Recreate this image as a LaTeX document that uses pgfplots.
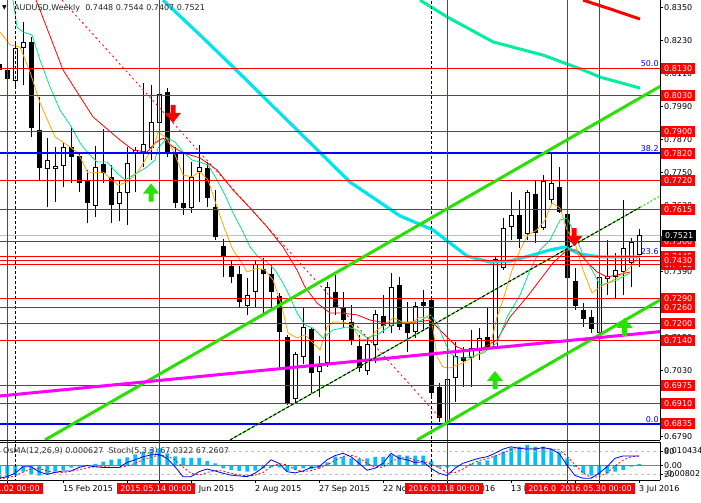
\documentclass[border=0pt]{standalone}
\usepackage{pgfplots}
\pgfplotsset{compat=1.18}
\usepackage{pgfplotstable}
\usepackage{fontspec}
\setmainfont{DejaVu Sans}

\definecolor{mtred}{RGB}{255,0,0}
\definecolor{mtblue}{RGB}{0,0,255}
\definecolor{chan}{RGB}{40,225,0}
\definecolor{magen}{RGB}{255,0,255}
\definecolor{aqua}{RGB}{0,228,240}
\definecolor{sprg}{RGB}{0,238,160}
\definecolor{orng}{RGB}{255,165,0}
\definecolor{grn}{RGB}{0,230,140}
\definecolor{osma}{RGB}{0,191,255}
\definecolor{silv}{RGB}{192,192,192}

% weekly candles, x = week number (0 = week of 4 Jan 2015)
\pgfplotstableread{
i o h l c
-2 0.8145 0.8152 0.8116 0.8123
-1 0.8123 0.8126 0.8086 0.8090
2 0.8225 0.8243 0.7879 0.7912
3 0.7905 0.8025 0.7719 0.7766
7 0.7843 0.7915 0.7712 0.7806
8 0.7810 0.7821 0.7679 0.7712
9 0.7719 0.7759 0.7566 0.7639
11 0.7781 0.7908 0.7712 0.7748
12 0.7734 0.7777 0.7566 0.7632
19 0.8043 0.8057 0.7806 0.7824
20 0.7821 0.7843 0.7621 0.7639
21 0.7639 0.7821 0.7595 0.7621
24 0.7766 0.7788 0.7624 0.7657
25 0.7624 0.7686 0.7504 0.7515
26 0.7483 0.7508 0.7370 0.7446
27 0.7410 0.7432 0.7348 0.7370
28 0.7381 0.7410 0.7257 0.7279
31 0.7399 0.7439 0.7239 0.7381
32 0.7381 0.7413 0.7250 0.7315
33 0.7301 0.7312 0.7042 0.7170
34 0.7152 0.7159 0.6904 0.6908
37 0.7181 0.7188 0.6948 0.7021
40 0.7315 0.7377 0.7232 0.7261
41 0.7257 0.7315 0.7184 0.7213
42 0.7206 0.7268 0.7122 0.7137
43 0.7119 0.7159 0.7024 0.7039
46 0.7228 0.7304 0.7166 0.7192
48 0.7341 0.7370 0.7177 0.7188
49 0.7199 0.7279 0.7097 0.7166
51 0.7279 0.7323 0.7177 0.7264
52 0.7286 0.7293 0.6930 0.6948
53 0.6970 0.6984 0.6842 0.6857
56 0.7079 0.7115 0.6970 0.7064
59 0.7152 0.7261 0.7104 0.7115
63 0.7595 0.7650 0.7475 0.7508
65 0.7672 0.7723 0.7493 0.7530
68 0.7697 0.7770 0.7603 0.7606
69 0.7599 0.7606 0.7359 0.7366
70 0.7355 0.7402 0.7250 0.7264
71 0.7250 0.7275 0.7188 0.7217
72 0.7224 0.7250 0.7166 0.7181
}\bear

\pgfplotstableread{
i o h l c
0 0.8083 0.8221 0.8057 0.8203
1 0.8203 0.8297 0.8068 0.8225
4 0.7763 0.7875 0.7624 0.7795
5 0.7763 0.7843 0.7643 0.7774
6 0.7774 0.7857 0.7697 0.7843
10 0.7628 0.7846 0.7588 0.7770
13 0.7635 0.7723 0.7573 0.7679
14 0.7675 0.7843 0.7559 0.7784
15 0.7824 0.7843 0.7679 0.7832
16 0.7824 0.8076 0.7770 0.7854
17 0.7839 0.8068 0.7795 0.7934
18 0.7930 0.8039 0.7832 0.8035
22 0.7621 0.7788 0.7603 0.7734
23 0.7752 0.7850 0.7643 0.7770
29 0.7264 0.7366 0.7232 0.7304
30 0.7315 0.7428 0.7257 0.7417
35 0.6926 0.7097 0.6915 0.7090
36 0.7079 0.7261 0.7053 0.7188
38 0.7024 0.7082 0.6933 0.7046
39 0.7057 0.7352 0.7042 0.7333
44 0.7028 0.7148 0.7013 0.7126
45 0.7122 0.7250 0.7057 0.7235
47 0.7192 0.7384 0.7166 0.7333
50 0.7170 0.7279 0.7148 0.7264
54 0.6839 0.7006 0.6831 0.6999
55 0.7002 0.7133 0.6915 0.7082
57 0.7075 0.7177 0.6970 0.7112
58 0.7101 0.7184 0.7068 0.7148
60 0.7115 0.7443 0.7108 0.7435
61 0.7402 0.7584 0.7395 0.7548
62 0.7552 0.7679 0.7504 0.7595
64 0.7526 0.7686 0.7504 0.7679
66 0.7548 0.7741 0.7541 0.7719
67 0.7650 0.7821 0.7632 0.7712
73 0.7166 0.7370 0.7159 0.7370
74 0.7363 0.7504 0.7304 0.7373
75 0.7370 0.7457 0.7293 0.7395
76 0.7388 0.7650 0.7304 0.7475
77 0.7421 0.7512 0.7333 0.7497
78 0.7448 0.7544 0.7407 0.7521
}\bull

% OsMA histogram
\pgfplotstableread{
i v
-2 -0.0065
-1 -0.0062
0 -0.0048
1 -0.0032
2 -0.0045
3 -0.0052
4 -0.0045
5 -0.0032
6 -0.0023
7 -0.0012
8 -0.0007
9 -0.0002
10 0.0007
11 0.0018
12 0.0028
13 0.0032
14 0.0040
15 0.0055
16 0.0068
17 0.0082
18 0.0085
19 0.0060
20 0.0045
21 0.0038
22 0.0037
23 0.0037
24 0.0022
25 0.0010
26 -0.0015
27 -0.0023
28 -0.0028
29 -0.0032
30 -0.0027
31 -0.0015
32 -0.0008
33 -0.0010
34 -0.0028
35 -0.0022
36 -0.0015
37 -0.0018
38 -0.0015
39 0.0015
40 0.0043
41 0.0043
42 0.0035
43 0.0032
44 0.0035
45 0.0042
46 0.0042
47 0.0052
48 0.0052
49 0.0048
50 0.0048
51 0.0048
52 0.0022
53 -0.0012
54 -0.0012
55 -0.0007
56 -0.0002
57 0.0008
58 0.0018
59 0.0025
60 0.0048
61 0.0068
62 0.0088
63 0.0093
64 0.0102
65 0.0093
66 0.0093
67 0.0082
68 0.0065
69 0.0035
70 -0.0008
71 -0.0040
72 -0.0052
73 -0.0048
74 -0.0040
75 -0.0032
76 -0.0023
77 -0.0007
78 0.0006
}\osmatab

% Stochastic main / signal
\pgfplotstableread{
i m s
-2 9 8
-1 13 10
0 22 15
1 39 25
2 39 33
3 26 35
4 19 28
5 24 23
6 28 24
7 28 27
8 37 31
9 42 36
10 39 39
11 37 39
12 37 38
13 37 37
14 50 41
15 57 48
16 65 57
17 70 64
18 71 69
19 61 67
20 39 57
21 13 38
22 13 22
23 26 17
24 33 24
25 28 29
26 22 28
27 17 22
28 15 18
29 13 15
30 22 17
31 37 24
32 57 39
33 48 47
34 26 44
35 23 32
36 28 26
37 37 29
38 39 35
39 57 44
40 68 55
41 74 66
42 65 69
43 48 62
44 30 48
45 35 38
46 48 38
47 74 52
48 61 61
49 57 64
50 50 56
51 52 53
52 35 46
53 22 36
54 16 24
55 35 24
56 48 33
57 55 46
58 61 55
59 65 60
60 74 67
61 85 75
62 91 83
63 87 88
64 85 88
65 85 86
66 89 86
67 85 86
68 74 83
69 43 67
70 16 44
71 9 23
72 9 11
73 22 13
74 39 23
75 61 41
76 67 56
77 67 65
78 67 67
}\stoch

\pgfdeclareplotmark{dnarrow}{%
  \pgfpathmoveto{\pgfpoint{-2.5pt}{9pt}}%
  \pgfpathlineto{\pgfpoint{2.5pt}{9pt}}%
  \pgfpathlineto{\pgfpoint{2.5pt}{1pt}}%
  \pgfpathlineto{\pgfpoint{8pt}{1pt}}%
  \pgfpathlineto{\pgfpoint{0pt}{-9pt}}%
  \pgfpathlineto{\pgfpoint{-8pt}{1pt}}%
  \pgfpathlineto{\pgfpoint{-2.5pt}{1pt}}%
  \pgfpathclose\pgfusepathqfill}
\pgfdeclareplotmark{uparrow}{%
  \pgfpathmoveto{\pgfpoint{-2.5pt}{-9pt}}%
  \pgfpathlineto{\pgfpoint{2.5pt}{-9pt}}%
  \pgfpathlineto{\pgfpoint{2.5pt}{-1pt}}%
  \pgfpathlineto{\pgfpoint{8pt}{-1pt}}%
  \pgfpathlineto{\pgfpoint{0pt}{9pt}}%
  \pgfpathlineto{\pgfpoint{-8pt}{-1pt}}%
  \pgfpathlineto{\pgfpoint{-2.5pt}{-1pt}}%
  \pgfpathclose\pgfusepathqfill}

\tikzset{lbl/.style={font=\fontsize{8}{9.6}\selectfont, inner xsep=3pt, inner ysep=2.5pt, text height=6pt, text depth=0pt}}

\begin{document}
\begin{tikzpicture}[font=\fontsize{8}{9.6}\selectfont]
\fill[white] (0,0) rectangle (701pt,503pt);
\useasboundingbox (0,0) rectangle (701pt,503pt);

% ---------------- price panel ----------------
\begin{axis}[
  at={(0pt,63pt)}, anchor=south west, scale only axis,
  width=660pt, height=440pt,
  xmin=-1.875, xmax=80.625, ymin=0.67768, ymax=0.83774,
  axis x line*=bottom, axis y line*=right,
  axis line style={black, line width=0.8pt, -},
  xtick=\empty,
  ytick={0.6790,0.6910,0.7030,0.7150,0.7270,0.7390,0.7510,0.7630,0.7750,0.7870,0.7990,0.8110,0.8230,0.8350},
  scaled y ticks=false,
  tick align=outside, major tick length=3pt,
  tick style={black, line width=0.6pt},
  yticklabel style={lbl, anchor=west, xshift=-2pt,
    /pgf/number format/fixed, /pgf/number format/fixed zerofill,
    /pgf/number format/precision=4, /pgf/number format/assume math mode=true},
  extra y ticks={0.8130,0.8030,0.7900,0.7820,0.7720,0.7615,0.7500,0.7445,0.7415,0.7430,0.7290,0.7260,0.7200,0.7140,0.6975,0.6910,0.6835},
  extra y tick style={yticklabel style={fill=mtred, text=white}},
]
% current price line
\addplot[silv, line width=0.8pt] coordinates {(-5,0.7521) (90,0.7521)};

% wicks
\addplot[draw=none, mark=none, forget plot, error bars/.cd, y dir=plus, y explicit, error mark=none,
  error bar style={draw=black, line width=1pt, line cap=butt}]
  table[x=i, y=l, y error expr=\thisrow{h}-\thisrow{l}] {\bear};
\addplot[draw=none, mark=none, forget plot, error bars/.cd, y dir=plus, y explicit, error mark=none,
  error bar style={draw=black, line width=1pt, line cap=butt}]
  table[x=i, y=l, y error expr=\thisrow{h}-\thisrow{l}] {\bull};
% bodies
\addplot[draw=none, mark=none, forget plot, error bars/.cd, y dir=plus, y explicit, error mark=none,
  error bar style={draw=black, line width=5pt, line cap=butt}]
  table[x=i, y=c, y error expr=\thisrow{o}-\thisrow{c}] {\bear};
\addplot[draw=none, mark=none, forget plot, error bars/.cd, y dir=plus, y explicit, error mark=none,
  error bar style={draw=black, line width=5pt, line cap=butt}]
  table[x=i, y=o, y error expr=\thisrow{c}-\thisrow{o}] {\bull};
\addplot[draw=none, mark=none, forget plot, error bars/.cd, y dir=plus, y explicit, error mark=none,
  error bar style={draw=white, line width=3pt, line cap=butt}]
  table[x=i, y expr=\thisrow{o}+0.00036, y error expr=\thisrow{c}-\thisrow{o}-0.00073] {\bull};

% slow moving averages
\addplot[aqua, line width=3.2pt] coordinates {(18.5,0.8377) (23.125,0.8250) (27.25,0.8134) (35.625,0.7894) (41.875,0.7715) (48.125,0.7592) (52.25,0.7541) (56.5,0.7446) (59.375,0.7424) (61.875,0.7428) (64.75,0.7450) (66.875,0.7468) (68.75,0.7479) (70.625,0.7453) (73.125,0.7443) (78.125,0.7443)};
\addplot[sprg, line width=3pt] coordinates {(50.625,0.8377) (54.0,0.8316) (59.75,0.8225) (66.0,0.8177) (71.0,0.8123) (73.125,0.8097) (78.125,0.8057)};
\addplot[mtred, line width=3pt] coordinates {(71.0,0.8377) (74.375,0.8345) (78.125,0.8308)};

% fast moving averages
\addplot[mtred, line width=0.8pt] coordinates {(2.625,0.8377) (3.125,0.8341) (6.0,0.8123) (9.75,0.7952) (13.125,0.7868) (14.75,0.7832) (16.5,0.7824) (17.5,0.7857) (18.5,0.7875) (19.75,0.7843) (21.0,0.7821) (23.125,0.7803) (25.25,0.7759) (27.25,0.7686) (29.375,0.7621) (31.5,0.7552) (33.5,0.7479) (35.25,0.7395) (36.25,0.7333) (37.75,0.7275) (39.375,0.7239) (40.625,0.7239) (42.75,0.7232) (44.375,0.7213) (46.5,0.7202) (48.125,0.7202) (50.25,0.7206) (51.875,0.7213) (53.5,0.7166) (55.25,0.7115) (56.25,0.7104) (58.5,0.7112) (60.25,0.7141) (61.875,0.7224) (64.0,0.7297) (65.625,0.7359) (67.25,0.7421) (69.0,0.7468) (70.25,0.7468) (71.5,0.7424) (72.75,0.7388) (74.0,0.7370) (75.25,0.7377) (76.875,0.7388)};
\addplot[grn, line width=0.8pt] coordinates {(-0.25,0.8377) (0.25,0.8279) (1.0,0.8261) (2.125,0.8250) (3.125,0.8159) (4.375,0.8061) (5.625,0.7977) (7.125,0.7912) (8.125,0.7857) (9.125,0.7821) (10.25,0.7788) (11.5,0.7788) (12.75,0.7748) (13.75,0.7723) (15.25,0.7748) (16.5,0.7770) (17.5,0.7795) (17.875,0.7839) (19.0,0.7875) (20.0,0.7861) (21.0,0.7824) (22.125,0.7795) (23.125,0.7788) (24.125,0.7777) (25.25,0.7723) (26.25,0.7668) (27.25,0.7603) (28.375,0.7541) (29.375,0.7479) (30.375,0.7443) (31.5,0.7424) (32.5,0.7395) (33.5,0.7348) (34.375,0.7297) (35.25,0.7239) (36.25,0.7195) (37.25,0.7184) (38.5,0.7148) (39.75,0.7177) (41.5,0.7188) (42.75,0.7177) (44.0,0.7148) (45.25,0.7159) (46.5,0.7184) (47.75,0.7206) (49.375,0.7206) (50.625,0.7210) (51.875,0.7232) (52.75,0.7202) (53.5,0.7148) (54.375,0.7093) (55.25,0.7075) (56.25,0.7075) (58.5,0.7093) (60.25,0.7130) (61.5,0.7224) (63.125,0.7304) (64.375,0.7395) (65.625,0.7468) (66.875,0.7504) (68.125,0.7577) (69.0,0.7584) (70.0,0.7523) (71.0,0.7450) (72.125,0.7395) (73.125,0.7341) (74.125,0.7348) (75.25,0.7359) (76.875,0.7384)};
\addplot[orng, line width=0.8pt] coordinates {(-1.875,0.8261) (-0.625,0.8214) (0.625,0.8206) (1.875,0.8116) (3.125,0.8003) (5.0,0.7879) (6.875,0.7843) (7.875,0.7821) (9.125,0.7748) (11.0,0.7752) (12.875,0.7704) (14.0,0.7715) (15.25,0.7748) (16.5,0.7806) (17.5,0.7857) (17.875,0.7897) (19.0,0.7875) (20.0,0.7814) (21.0,0.7741) (22.125,0.7734) (23.125,0.7752) (24.125,0.7723) (25.25,0.7624) (26.25,0.7541) (27.25,0.7468) (28.125,0.7432) (29.0,0.7388) (30.25,0.7402) (31.25,0.7395) (32.25,0.7359) (33.375,0.7261) (34.125,0.7166) (35.25,0.7148) (36.25,0.7159) (36.875,0.7141) (38.125,0.7104) (39.0,0.7188) (39.75,0.7206) (41.0,0.7206) (42.125,0.7195) (43.125,0.7144) (44.125,0.7141) (45.25,0.7177) (46.25,0.7195) (47.25,0.7221) (48.5,0.7206) (49.625,0.7202) (50.375,0.7221) (51.5,0.7224) (52.125,0.7206) (52.75,0.7079) (53.5,0.7042) (54.375,0.7039) (55.25,0.7050) (56.0,0.7057) (57.75,0.7086) (59.375,0.7115) (60.25,0.7224) (61.0,0.7286) (62.125,0.7395) (63.125,0.7468) (64.125,0.7523) (65.25,0.7541) (66.25,0.7577) (67.125,0.7639) (68.125,0.7621) (69.0,0.7541) (70.0,0.7493) (71.0,0.7395) (72.125,0.7312) (73.125,0.7333) (74.125,0.7348) (75.25,0.7366) (76.25,0.7388) (77.125,0.7413) (78.125,0.7450)};

% drawn objects
\addplot[mtred, line width=0.8pt, dash pattern=on 2pt off 3pt] coordinates {(5.875,0.8377) (53.125,0.6857)};
\pgfplotsinvokeforeach{0.8130,0.8030,0.7900,0.7720,0.7615,0.7500,0.7445,0.7430,0.7415,0.7290,0.7260,0.7200,0.7140,0.6975,0.6910}{
  \addplot[mtred, line width=1pt] coordinates {(-5,#1) (90,#1)};
}
\addplot[mtblue, line width=2pt] coordinates {(-5,0.7820) (90,0.7820)};
\addplot[mtblue, line width=2pt] coordinates {(-5,0.6835) (90,0.6835)};
\pgfplotsinvokeforeach{-1,18,54,69,73}{
  \addplot[mtred, line width=1pt] coordinates {(#1,0.6) (#1,0.9)};
}
\pgfplotsinvokeforeach{0,52}{
  \addplot[black, line width=0.8pt, dash pattern=on 3pt off 2pt] coordinates {(#1,0.6) (#1,0.9)};
}
\addplot[chan, line width=3pt] coordinates {(3.75,0.6777) (80.625,0.8063)};
\addplot[chan, line width=3pt] coordinates {(50.25,0.6777) (80.625,0.7286)};
\addplot[magen, line width=3pt] coordinates {(-1.875,0.6937) (80.625,0.7171)};
\addplot[chan, line width=1pt] coordinates {(26.875,0.6777) (78.125,0.7623)};
\addplot[black, line width=1pt, dash pattern=on 3pt off 2pt] coordinates {(26.875,0.6777) (78.125,0.7623)};
\addplot[chan, line width=1pt, dash pattern=on 2pt off 2pt] coordinates {(78.125,0.7623) (80.625,0.7664)};

% signal arrows
\addplot[only marks, mark=dnarrow, mtred] coordinates {(19.75,0.7963) (69.9,0.7515)};
\addplot[only marks, mark=uparrow, chan] coordinates {(17.0,0.7677) (60.0,0.6995) (76.2,0.7188)};

% Fibonacci level texts
\node[mtblue, anchor=south east, inner sep=1pt] at (axis cs:80.6,0.8130) {50.0};
\node[mtblue, anchor=south east, inner sep=1pt] at (axis cs:80.6,0.7820) {38.2};
\node[mtblue, anchor=south east, inner sep=1pt] at (axis cs:80.6,0.7445) {23.6};
\node[mtblue, anchor=south east, inner sep=1pt] at (axis cs:80.6,0.6835) {0.0};
\end{axis}

% ---------------- OsMA panel ----------------
\begin{axis}[
  at={(0pt,23pt)}, anchor=south west, scale only axis,
  width=660pt, height=38pt,
  xmin=-1.875, xmax=80.625, ymin=-0.00734, ymax=0.01167,
  axis x line*=top, axis y line*=right,
  axis line style={black, line width=0.8pt, -},
  xtick=\empty, scaled y ticks=false,
  ytick={-0.00433,0,0.00717}, yticklabels={-0.00802,0.00,0.010434},
  tick align=outside, major tick length=3pt,
  tick style={black, line width=0.6pt},
  yticklabel style={lbl, anchor=west, xshift=-2pt},
]
\addplot[ybar, bar width=3.5pt, fill=osma, draw=none] table[x=i, y=v] {\osmatab};
\addplot[gray, line width=1pt] coordinates {(-5,0) (90,0)};
\end{axis}

% ---------------- Stochastic panel + time axis ----------------
\begin{axis}[
  at={(0pt,23pt)}, anchor=south west, scale only axis,
  width=660pt, height=38pt,
  xmin=-1.875, xmax=80.625, ymin=4.35, ymax=103.5,
  axis x line*=bottom, axis y line*=right,
  axis line style={black, line width=0.8pt, -},
  ytick={20,80}, yticklabels={20,80},
  xtick={-2,6,14,22,30,38,46,54,62,70,78},
  xticklabels={21 Dec 2014,15 Feb 2015,12 Apr 2015,7 Jun 2015,2 Aug 2015,27 Sep 2015,22 Nov 2015,17 Jan 2016,13 Mar 2016,8 May 2016,3 Jul 2016},
  tick align=outside, major tick length=3pt,
  tick style={black, line width=0.6pt},
  yticklabel style={lbl, anchor=west, xshift=-2pt},
  xticklabel style={lbl, anchor=north west, xshift=-3pt},
  extra x ticks={-1,18,54,69,73},
  extra x tick labels={2015.01.02 00:00,2015.05.14 00:00,2016.01.18 00:00,2016.05.02 00:00,2016.05.30 00:00},
  extra x tick style={xticklabel style={fill=mtred, text=white, anchor=north, xshift=0pt}},
]
\addplot[silv, line width=0.8pt, dash pattern=on 3pt off 3pt] coordinates {(-5,80) (90,80)};
\addplot[silv, line width=0.8pt, dash pattern=on 3pt off 3pt] coordinates {(-5,20) (90,20)};
\pgfplotsinvokeforeach{-1,18,54,69,73}{
  \addplot[mtred, line width=1pt] coordinates {(#1,0) (#1,110)};
}
\pgfplotsinvokeforeach{0,52}{
  \addplot[black, line width=0.8pt, dash pattern=on 3pt off 2pt] coordinates {(#1,0) (#1,110)};
}
\addplot[mtred, line width=0.8pt, dash pattern=on 2pt off 2pt] table[x=i, y=s] {\stoch};
\addplot[mtblue, line width=0.8pt] table[x=i, y=m] {\stoch};
\end{axis}

% panel captions and current price label
\node[anchor=west, inner sep=0pt] at (2pt,495pt) {\fontsize{6}{7}\selectfont ▼};
\node[anchor=west, inner sep=0pt, text=black!85] at (14pt,494.5pt) {AUDUSD,Weekly\ \ 0.7448 0.7544 0.7407 0.7521};
\node[anchor=west, inner sep=0pt, text=black!80] at (3pt,52pt) {OsMA(12,26,9) 0.000627\ \ Stoch(5,3,3) 67.0322 67.2607};
\node[lbl, anchor=west, fill=black, text=white] at (662pt,267.6pt) {0.7521};
\end{tikzpicture}
\end{document}
